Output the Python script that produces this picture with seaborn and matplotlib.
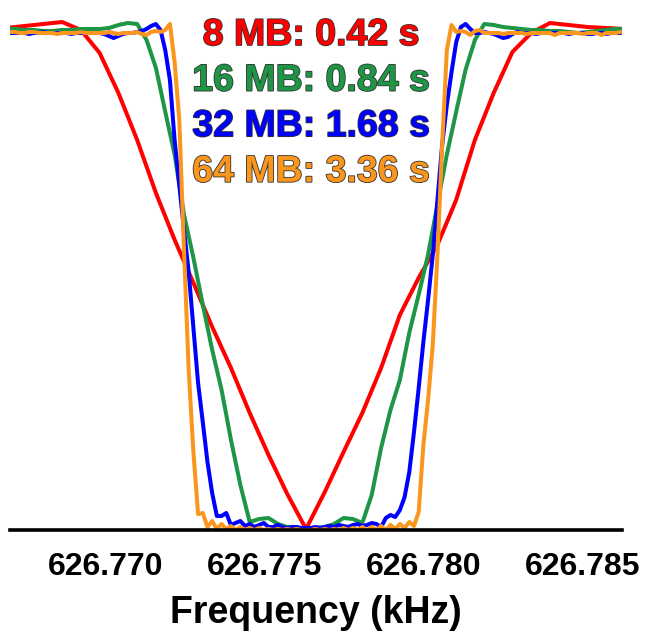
import numpy as np
import pandas as pd
import matplotlib
matplotlib.use("Agg")
import matplotlib.pyplot as plt
import matplotlib.patheffects as pe
import seaborn as sns

# ---------------- data ----------------
center_khz = 626.77629          # centre of the spectral window (kHz)
red_step = 0.000590              # bin spacing per data set (kHz)
green_step = 0.000295
blue_step = 0.0001476
orange_step = 0.0001476
red_first_bin = -16
green_first_bin = -32
blue_first_bin = -63
orange_first_bin = -63

labels = ["8 MB: 0.42 s", "16 MB: 0.84 s", "32 MB: 1.68 s", "64 MB: 3.36 s"]
colors = ["#ff0000", "#1e9646", "#0000ff", "#fa961e"]

red_amp = [502, 504, 506, 508, 500, 477, 437, 390, 337, 290, 247, 203, 162, 117, 75, 36, 1,
           38, 78, 117, 162, 215, 252, 285, 330, 390, 437, 478, 497, 507, 505, 503, 502, 501]

green_amp = [501, 501, 500, 500, 499, 499, 500, 500, 501, 501, 501, 502, 505, 507, 506, 490,
             462, 418, 375, 315, 272, 225, 180, 140, 90, 45, 8, 11, 12, 6, 3, 2, 1,
             2, 3, 6, 12, 11, 7, 35, 82, 120, 150, 197, 235, 275, 325, 375, 418, 460, 490,
             506, 505, 503, 502, 501, 500, 500, 499, 499, 498, 497, 498, 499, 500, 501, 501]

blue_amp = [497, 497, 497, 497, 496, 497, 497, 498, 497, 497, 497, 497, 497, 496, 497, 497,
            497, 497, 497, 497,
            496, 494, 492, 494, 496, 497, 497, 498, 499, 501, 504, 506, 500, 480, 450, 390,
            345, 300, 258, 202, 147, 108, 68, 37, 14,
            14, 17, 5, 7, 9, 4, 6, 3, 5, 7, 3, 3, 5, 3, 2, 3, 3, 2, 2,
            2, 3, 2, 3, 4, 3, 5, 4, 3, 5, 6, 4, 5, 7, 6, 3, 12, 15, 13, 20,
            33, 58, 98, 142, 188, 230, 275, 330, 385, 425, 458, 488, 503, 506, 501, 497,
            497, 498, 497, 496, 494, 492, 493, 496, 498, 497,
            497, 497, 496, 497, 497, 497, 497, 497, 497, 496, 497, 497, 497, 496, 496, 497,
            497, 496, 497, 497, 497]

orange_amp = [498, 498, 497, 497, 498, 498, 497, 497, 497, 497, 496, 497, 497, 497, 497, 498,
              497, 497, 497, 497, 497, 498, 497, 496, 497, 497, 497, 498, 496, 495, 498, 499,
              498, 500,
              506, 468, 410, 280, 160, 78,
              16, 17, 3, 9, 1, 6, 1, 4, 0, 3, 0, 2,
              0, 2, 0, 1, 0, 1, 0, 1, 0, 1, 0, 0,
              0, 1, 0, 1, 0, 1, 0, 2, 0, 2, 0,
              3, 0, 3, 0, 4, 0, 5, 1, 6, 2, 8, 4, 18, 85, 130, 185, 275, 385, 480, 505,
              498, 499, 498, 495, 499, 500, 497, 497,
              497, 497, 496, 497, 497, 497, 497, 496, 497, 497, 497, 497, 497, 495, 497, 497,
              497, 497, 497, 496, 497, 497, 497, 495, 497, 497, 497, 498]

xticks = [626.770, 626.775, 626.780, 626.785]
xtick_labels = ["626.770", "626.775", "626.780", "626.785"]
x_limits = (626.766981, 626.786226)

# ---------------- long-form table ----------------
frames = []
for lab, amp, step, first in zip(labels,
                                 [red_amp, green_amp, blue_amp, orange_amp],
                                 [red_step, green_step, blue_step, orange_step],
                                 [red_first_bin, green_first_bin, blue_first_bin, orange_first_bin]):
    bins = np.arange(len(amp)) + first
    frames.append(pd.DataFrame({"freq": center_khz + bins * step,
                                "amp": amp, "series": lab}))
df = pd.concat(frames, ignore_index=True)

# ---------------- plot ----------------
sns.set_style("white")
plt.rcParams["font.family"] = ["Liberation Sans", "DejaVu Sans"]
plt.rcParams["text.color"] = "black"
plt.rcParams["axes.labelcolor"] = "black"

fig = plt.figure(figsize=(6.47, 6.34), dpi=100)
ax = fig.add_axes([10 / 647, (634 - 530) / 634, 612 / 647, 530 / 634])

sns.lineplot(data=df, x="freq", y="amp", hue="series", hue_order=labels,
             palette=dict(zip(labels, colors)), estimator=None, sort=False,
             linewidth=2.9, legend=False, ax=ax)

ax.set_xlim(*x_limits)
ax.set_ylim(0, 530)
ax.set_yticks([])
ax.set_ylabel("")
ax.set_xticks(xticks)
ax.set_xticklabels(xtick_labels, fontsize=23, fontweight="bold")
ax.set_xlabel("Frequency (kHz)", fontsize=27, fontweight="bold", labelpad=10,
              color="black")
for side in ["left", "right", "top"]:
    ax.spines[side].set_visible(False)
ax.spines["bottom"].set_linewidth(2.6)
ax.spines["bottom"].set_color("black")
ax.tick_params(axis="x", direction="out", length=9.5, width=2.4, pad=6,
               colors="black", labelcolor="black")
ax.patch.set_alpha(0)

baselines = [0.915, 0.829, 0.743, 0.657]
for lab, col, yb in zip(labels, colors, baselines):
    ax.text(0.492, yb, lab, transform=ax.transAxes, ha="center", va="baseline",
            fontsize=27, fontweight="bold", color=col,
            path_effects=[pe.withStroke(linewidth=1.2, foreground="#333333")])

fig.savefig("out.png", dpi=100)
